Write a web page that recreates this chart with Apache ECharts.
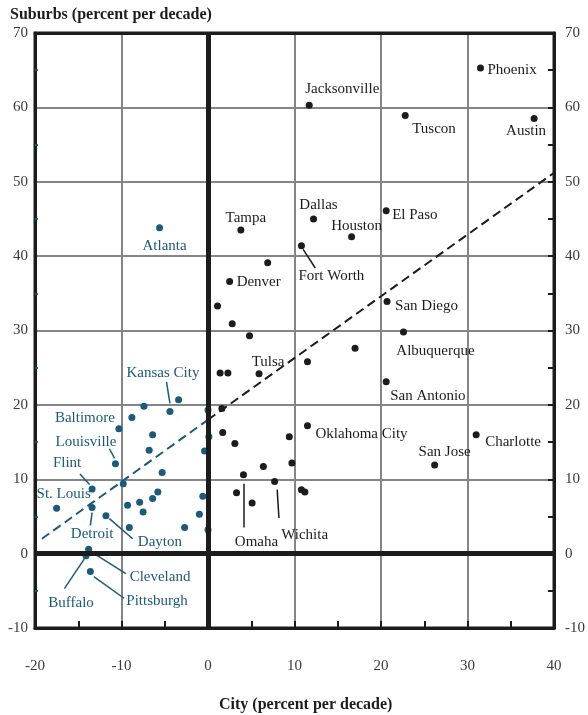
<!DOCTYPE html>
<html>
<head>
<meta charset="utf-8">
<script src="https://cdn.jsdelivr.net/npm/echarts@6/dist/echarts.min.js"></script>
<style>
  html, body { margin: 0; padding: 0; background: #fff; }
  #chart { width: 588px; height: 715px; }
</style>
</head>
<body>
<div id="chart"></div>
<script>
// Sun belt cities (black)
const sunNames = ['Phoenix', 'Jacksonville', 'Tuscon', 'Austin', 'El Paso', 'Dallas', 'Houston', 'Tampa',
  'Fort Worth', '', 'Denver', '', 'San Diego', '', 'Albuquerque', '', '', '', 'Tulsa', '', '',
  'San Antonio', '', '', '', '', 'Oklahoma City', '', '', '', 'Wichita', '', '', '', '', 'San Jose', 'Charlotte']
const sunX = [31.5, 11.7, 22.8, 37.7, 20.6, 12.2, 16.6, 3.8,
  10.8, 6.9, 2.5, 1.1, 20.7, 2.8, 22.6, 4.8, 17.0, 11.5, 5.9, 1.4, 2.3,
  20.6, 1.6, 1.7, 3.1, 9.4, 11.5, 6.4, 9.7, 4.1, 7.7, 10.8, 11.2, 3.3, 5.1, 26.2, 31.0]
const sunY = [65.3, 60.3, 58.9, 58.5, 46.1, 45.0, 42.6, 43.5,
  41.4, 39.1, 36.6, 33.3, 33.9, 30.9, 29.8, 29.3, 27.6, 25.8, 24.2, 24.3, 24.3,
  23.1, 19.5, 16.3, 14.8, 15.7, 17.2, 11.7, 12.2, 10.6, 9.7, 8.6, 8.3, 8.2, 6.8, 11.9, 16.0]

// Rust belt cities (blue)
const rustNames = ['Atlanta', '', 'Kansas City', '', '', 'Baltimore', '', '', 'Louisville', '', '',
  'Flint', '', '', '', '', '', 'St. Louis', 'Detroit', 'Dayton', '', '', '', '', '',
  'Cleveland', 'Buffalo', 'Pittsburgh', '', '', '']
const rustX = [-5.6, -3.4, -4.4, -7.4, -8.8, -10.3, -6.4, -6.8, -10.7, -5.3, -9.8,
  -13.4, -5.8, -6.4, -7.9, -9.3, -7.5, -17.5, -13.4, -11.8, -9.1, -2.7, -1.0, -0.6, 0.0,
  -13.8, -14.1, -13.6, 0.0, 0.1, -0.4]
const rustY = [43.8, 20.7, 19.1, 19.8, 18.3, 16.8, 16.0, 13.9, 12.1, 10.9, 9.4,
  8.7, 8.3, 7.4, 6.9, 6.5, 5.6, 6.1, 6.2, 5.1, 3.5, 3.5, 5.3, 7.7, 3.2,
  0.6, -0.3, -2.4, 19.3, 15.7, 13.8]

// fitted line, read at its ends and at the city axis
const trendX = [-19.2, 0, 40]
const trendY = [2.0, 18.0, 51.2]

// leader lines from label to point
const leaderNames = ['Fort Worth', 'Kansas City', 'Louisville', 'Flint', 'Detroit', 'Dayton',
  'Cleveland', 'Buffalo', 'Pittsburgh', 'Omaha', 'Wichita']
const leaderFrom = [[11.0, 40.9], [-4.8, 23.1], [-11.4, 14.1], [-14.8, 10.7], [-13.4, 5.5], [-11.4, 4.7],
  [-13.3, 0.1], [-14.3, -0.7], [-13.2, -3.1], [4.1, 9.4], [8.0, 8.6]]
const leaderTo = [[12.4, 38.4], [-4.4, 20.2], [-10.8, 12.8], [-13.7, 9.3], [-13.6, 3.8], [-8.7, 2.0],
  [-9.5, -2.7], [-16.6, -4.7], [-9.7, -6.0], [4.1, 3.5], [8.2, 4.8]]

const xTicks = [-20, -10, 0, 10, 20, 30, 40]
const yTicks = [-10, 0, 10, 20, 30, 40, 50, 60, 70]

// label placement: [align, dx, dy] from point centre
const labelPlace = {
  'Phoenix': ['left', 7, 2], 'Jacksonville': ['center', 33, -16], 'Tuscon': ['left', 7, 14],
  'Austin': ['center', -8, 13], 'El Paso': ['left', 6, 4], 'Dallas': ['center', 5, -14],
  'Houston': ['center', 5, -11], 'Tampa': ['center', 5, -12], 'Fort Worth': ['left', -3, 30],
  'Denver': ['left', 7, 1], 'San Diego': ['left', 8, 5], 'Albuquerque': ['center', 32, 19],
  'Tulsa': ['center', 9, -12], 'San Antonio': ['left', 4, 14], 'Oklahoma City': ['left', 8, 8],
  'San Jose': ['center', 10, -13], 'Charlotte': ['left', 9, 7], 'Wichita': ['center', 30, 54],
  'Atlanta': ['center', 5, 18], 'Kansas City': ['center', -7, -39], 'Baltimore': ['right', -4, -11],
  'Louisville': ['right', 1, -22], 'Flint': ['center', -25, -26], 'St. Louis': ['center', 7, -14],
  'Detroit': ['center', 0, 27], 'Dayton': ['center', 54, 26], 'Cleveland': ['left', 41, 28],
  'Buffalo': ['center', -15, 47], 'Pittsburgh': ['left', 36, 30]
}

const BLUE = '#1b5a7a'
const INK = '#1c1c1c'
const FONT = '"Liberation Serif", "DejaVu Serif", serif'

function pts(names, xs, ys, color) {
  return xs.map((x, i) => {
    const item = { value: [x, ys[i]], name: names[i] }
    const p = labelPlace[names[i]]
    if (p) {
      item.label = {
        show: true, formatter: names[i], position: 'inside', align: p[0], verticalAlign: 'middle',
        offset: [p[1], p[2]], color: color, fontSize: 15, fontFamily: FONT
      }
    }
    return item
  })
}

const chart = echarts.init(document.getElementById('chart'))

const axisLbl = { color: '#3a3a3a', fontSize: 15, fontFamily: FONT }
const gridLine = { show: true, showMinLine: false, showMaxLine: false, lineStyle: { color: '#858585', width: 2 } }
const frame = { show: true, onZero: false, lineStyle: { color: INK, width: 3 } }

const option = {
  animation: false,
  backgroundColor: '#fff',
  title: [
    { text: 'Suburbs (percent per decade)', left: 5, top: 2,
      textStyle: { fontFamily: FONT, fontWeight: 'bold', fontSize: 16, color: INK } },
    { text: 'City (percent per decade)', left: 214, top: 692,
      textStyle: { fontFamily: FONT, fontWeight: 'bold', fontSize: 16, color: INK } }
  ],
  grid: {
    left: 35, right: 31, top: 33, bottom: 87,
    show: true, borderColor: INK, borderWidth: 3, backgroundColor: 'transparent'
  },
  xAxis: [
    {
      type: 'value', min: xTicks[0], max: xTicks[xTicks.length - 1], interval: 10, position: 'bottom',
      axisLine: frame,
      axisTick: { show: true, inside: true, length: 7, lineStyle: { color: INK, width: 2 } },
      minorTick: { show: true, splitNumber: 2, length: 7, lineStyle: { color: INK, width: 2 } },
      axisLabel: { ...axisLbl, margin: 31 },
      splitLine: gridLine
    },
    {
      type: 'value', min: xTicks[0], max: xTicks[xTicks.length - 1], interval: 10, position: 'top',
      axisLine: frame,
      axisTick: { show: false }, axisLabel: { show: false }, splitLine: { show: false }
    }
  ],
  yAxis: [
    {
      type: 'value', min: yTicks[0], max: yTicks[yTicks.length - 1], interval: 10, position: 'left',
      axisLine: frame,
      axisTick: { show: false, inside: true },
      minorTick: { show: true, splitNumber: 2, length: 3, lineStyle: { color: BLUE, width: 2 } },
      axisLabel: { ...axisLbl, margin: 7 },
      splitLine: gridLine
    },
    {
      type: 'value', min: yTicks[0], max: yTicks[yTicks.length - 1], interval: 10, position: 'right',
      axisLine: frame,
      axisTick: { show: true, inside: true, length: 6, lineStyle: { color: INK, width: 2 } },
      minorTick: { show: true, splitNumber: 2, length: 6, lineStyle: { color: INK, width: 2 } },
      axisLabel: { ...axisLbl, margin: 11 },
      splitLine: { show: false }
    }
  ],
  series: [
    {
      type: 'lines', coordinateSystem: 'cartesian2d', z: 1, silent: true,
      data: leaderNames.map((n, i) => ({
        coords: [leaderFrom[i], leaderTo[i]],
        lineStyle: { color: rustNames.includes(n) ? BLUE : INK, width: 1.5, opacity: 1 }
      })),
      lineStyle: { opacity: 1 },
      markLine: {
        silent: true, symbol: ['none', 'none'], label: { show: false },
        lineStyle: { color: INK, width: 5, type: 'solid', opacity: 1 },
        data: [{ xAxis: 0 }, { yAxis: 0 }]
      }
    },
    {
      type: 'line', z: 2, symbol: 'none', silent: true,
      data: [[trendX[0], trendY[0]], [trendX[1], trendY[1]]],
      lineStyle: { color: BLUE, width: 2, type: [9, 5] }
    },
    {
      type: 'line', z: 2, symbol: 'none', silent: true,
      data: [[trendX[1], trendY[1]], [trendX[2], trendY[2]]],
      lineStyle: { color: INK, width: 2, type: [9, 5] }
    },
    {
      type: 'scatter', z: 3, symbolSize: 7,
      itemStyle: { color: INK, opacity: 1 },
      data: pts(sunNames, sunX, sunY, INK)
    },
    {
      type: 'scatter', z: 3, symbolSize: 7,
      itemStyle: { color: BLUE, opacity: 1 },
      data: pts(rustNames, rustX, rustY, BLUE)
    },
    {
      // Omaha label sits on its own leader, below the point
      type: 'scatter', z: 3, symbolSize: 0, silent: true,
      itemStyle: { opacity: 1 },
      data: [{
        value: [4.1, 3.5], name: 'Omaha',
        label: { show: true, formatter: 'Omaha', position: 'inside', align: 'center', verticalAlign: 'middle',
          offset: [13, 14], color: INK, fontSize: 15, fontFamily: FONT }
      }]
    }
  ]
}

chart.setOption(option)
window.addEventListener('resize', () => chart.resize())
</script>
</body>
</html>
